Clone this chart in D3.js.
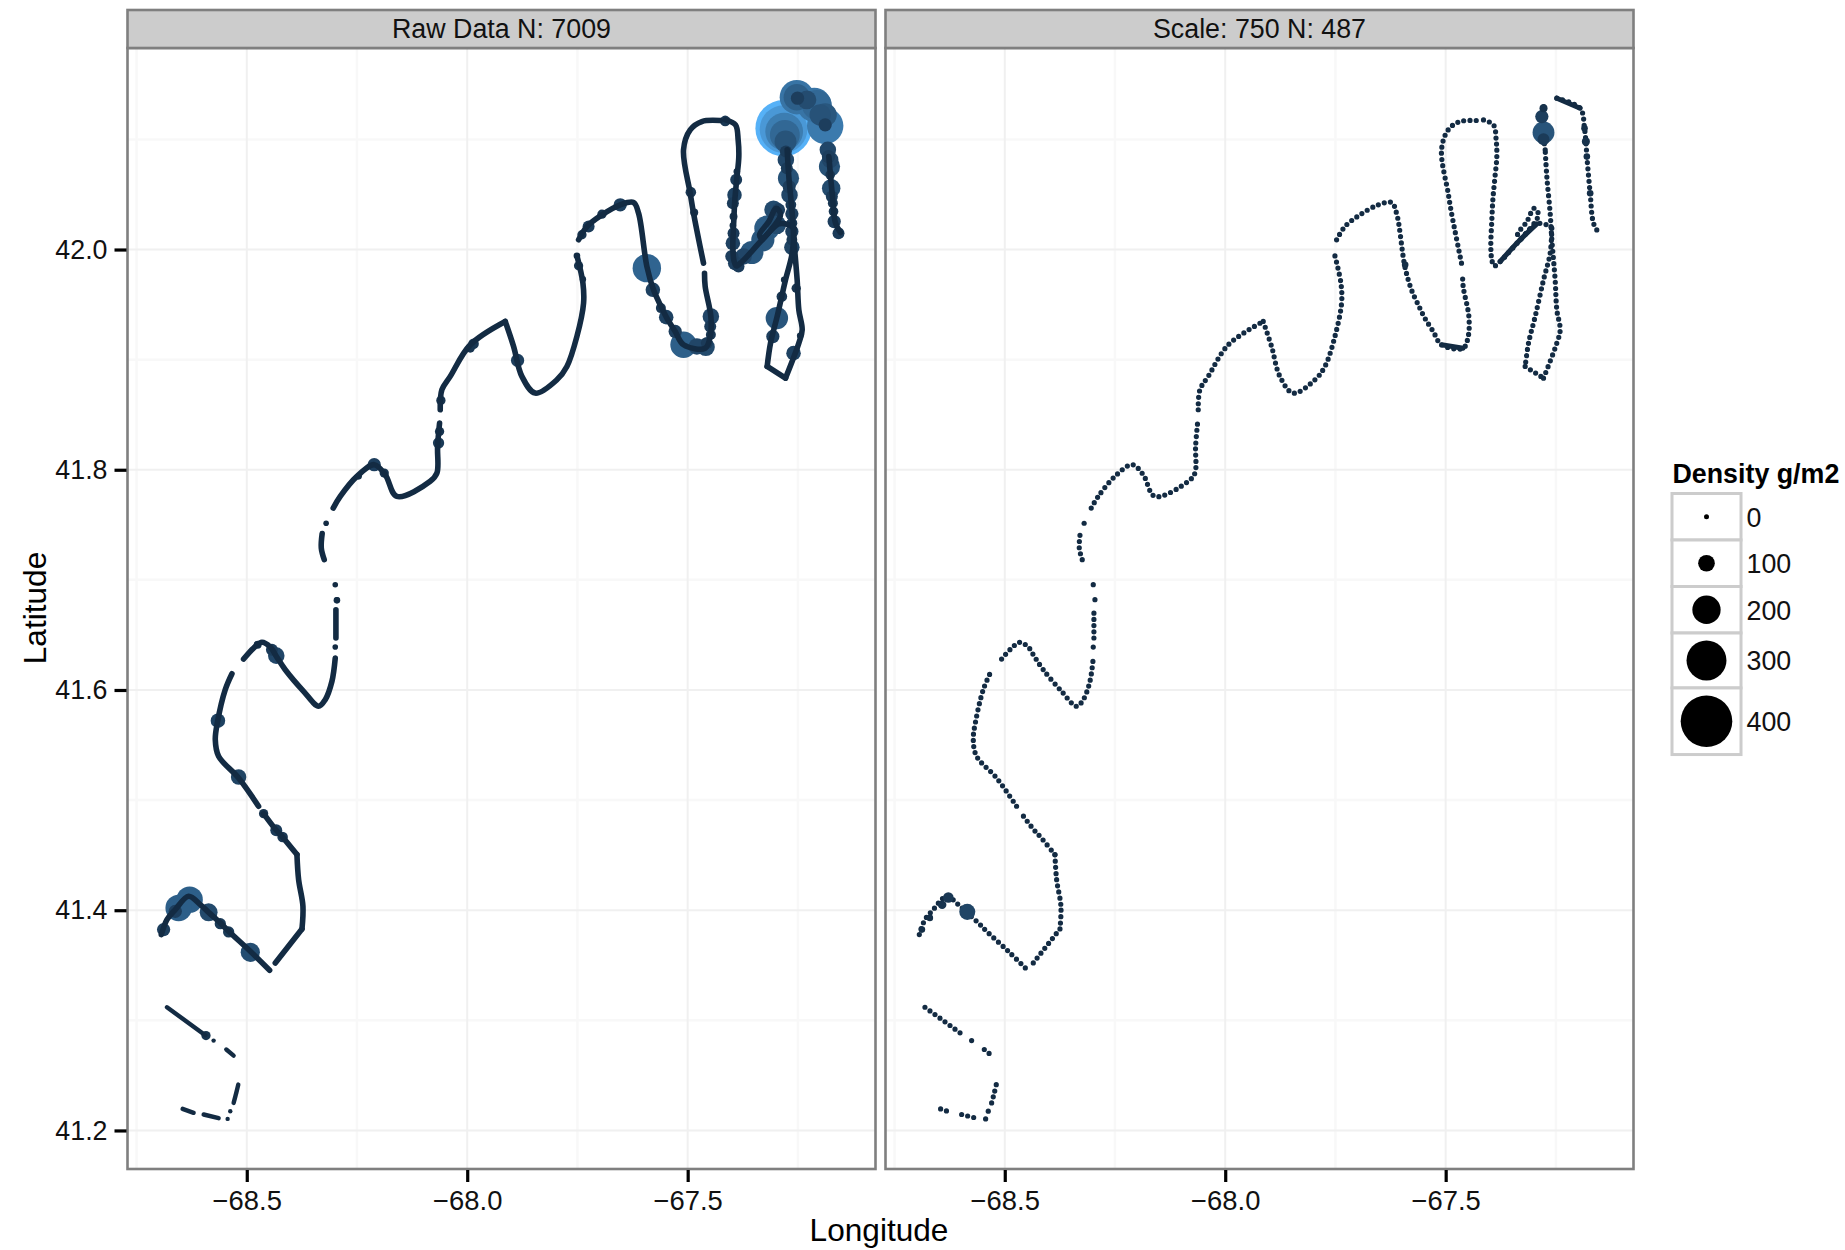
<!DOCTYPE html>
<html><head><meta charset="utf-8">
<script src="https://cdn.jsdelivr.net/npm/d3@7"></script>
<style>html,body{margin:0;padding:0;background:#fff}svg{display:block;font-family:"Liberation Sans",Arial,sans-serif}</style>
</head><body><svg id="c" width="1845" height="1250"></svg>
<script>
const panelTitles = ["Raw Data N: 7009", "Scale: 750 N: 487"];
const lonTicks = [-68.5, -68, -67.5];
const lonMinor = [-68.75, -68.25, -67.75, -67.25];
const latTicks = [41.2, 41.4, 41.6, 41.8, 42.0];
const latMinor = [41.3, 41.5, 41.7, 41.9, 42.1];
const legendValues = [0, 100, 200, 300, 400];

// Ship track pieces: [lon, lat]
const track = [
 [[-68.6455,41.2196],[-68.6205,41.2160]],
 [[-68.5978,41.2145],[-68.5638,41.2111]],
 [[-68.5434,41.2105]],
 [[-68.5374,41.2175]],
 [[-68.5298,41.2250],[-68.5238,41.2341],[-68.5192,41.2417]],
 [[-68.6810,41.3119],[-68.5941,41.2865]],
 [[-68.5752,41.2816]],
 [[-68.5464,41.2735],[-68.5298,41.2680]],
 [[-68.6938,41.3779],[-68.6810,41.3915],[-68.6621,41.4006],[-68.6319,41.4127],[-68.6054,41.4051],[-68.5865,41.3981],[-68.5600,41.3885],[-68.5411,41.3809],[-68.4920,41.3627],[-68.4482,41.3455]],
 [[-68.4353,41.3521],[-68.3748,41.3830]],
 [[-68.3748,41.3830],[-68.3726,41.4036],[-68.3824,41.4278],[-68.3862,41.4505]],
 [[-68.3862,41.4505],[-68.4202,41.4671],[-68.4331,41.4726],[-68.4618,41.4877]],
 [[-68.4732,41.4944],[-68.5185,41.5201],[-68.5639,41.5398],[-68.5714,41.5549],[-68.5661,41.5715],[-68.5488,41.6003],[-68.5336,41.6148]],
 [[-68.5072,41.6281],[-68.4845,41.6381],[-68.4656,41.6433],[-68.4467,41.6390],[-68.4331,41.6306],[-68.4127,41.6184],[-68.3711,41.5988],[-68.3371,41.5852],[-68.3220,41.5912],[-68.3068,41.6079],[-68.2993,41.6290]],
 [[-68.2993,41.6390]],
 [[-68.2978,41.6472],[-68.2978,41.6729]],
 [[-68.2955,41.6820]],
 [[-68.2993,41.6956]],
 [[-68.3243,41.7183],[-68.3310,41.7290],[-68.3290,41.7420]],
 [[-68.3200,41.7514]],
 [[-68.3039,41.7652],[-68.2880,41.7758],[-68.2502,41.7940],[-68.2109,41.8046],[-68.1859,41.7955],[-68.1595,41.7758],[-68.0839,41.7895],[-68.0687,41.7970],[-68.0672,41.8212],[-68.0627,41.8424]],
 [[-68.0612,41.8545],[-68.0574,41.8727],[-68.0385,41.8848],[-67.9931,41.9135],[-67.9138,41.9347]],
 [[-67.9138,41.9347],[-67.8949,41.9120],[-67.8760,41.8848],[-67.8457,41.8696],[-67.7966,41.8817],[-67.7739,41.8938],[-67.7512,41.9211],[-67.7361,41.9513],[-67.7376,41.9695],[-67.7512,41.9943]],
 [[-67.7474,42.0088],[-67.7285,42.0209],[-67.6945,42.0315],[-67.6529,42.0406],[-67.6227,42.0427],[-67.6114,42.0330],[-67.5925,41.9846],[-67.5775,41.9634],[-67.5586,41.9468],[-67.5472,41.9377],[-67.5283,41.9256],[-67.5094,41.9135],[-67.4603,41.9104],[-67.4489,41.9210],[-67.4474,41.9392],[-67.4603,41.9664],[-67.4618,41.9785]],
 [[-67.4641,41.9876],[-67.4867,42.0330],[-67.4943,42.0512],[-67.5094,42.0905],[-67.4943,42.1087],[-67.4678,42.1162],[-67.4263,42.1171]],
 [[-67.4142,42.1177],[-67.3915,42.1132],[-67.3855,42.0995],[-67.3840,42.0844],[-67.3885,42.0647],[-67.3930,42.0451],[-67.3953,42.0269],[-67.3976,42.0027],[-67.3953,41.9906],[-67.3900,41.9851],[-67.3764,41.9891],[-67.3310,42.0088],[-67.2932,42.0233],[-67.2706,42.0224],[-67.2592,42.0193]],
 [[-67.3310,42.0088],[-67.3371,42.0133],[-67.3159,42.0254],[-67.2993,42.0375],[-67.2895,42.0314],[-67.3310,42.0088]],
 [[-67.2592,42.0193],[-67.2630,41.9966],[-67.2781,41.9724],[-67.2970,41.9392],[-67.3121,41.9150],[-67.3197,41.8938]],
 [[-67.3197,41.8938],[-67.2781,41.8832]],
 [[-67.2781,41.8832],[-67.2479,41.9150],[-67.2403,41.9270],[-67.2479,41.9452],[-67.2517,41.9724],[-67.2592,42.0088],[-67.2630,42.0330],[-67.2706,42.0662],[-67.2743,42.0905]],
 [[-67.1798,42.0844],[-67.1723,42.0511],[-67.1647,42.0239],[-67.1534,42.0154]]
];
// Pieces only seen as a line in the thinned panel (hidden by big circles in the raw panel)
const trackScaledOnly = [
 [[-67.2743,42.0905],[-67.2781,42.1026],[-67.2819,42.1207],[-67.2766,42.1313]],
 [[-67.2479,42.1374],[-67.1950,42.1283],[-67.1851,42.1101],[-67.1798,42.0844]]
];
const denseStretches = [
 [[-67.2479,42.1374],[-67.1950,42.1283]],
 [[-67.5094,41.9135],[-67.4603,41.9104]],
 [[-67.3764,41.9891],[-67.3310,42.0088],[-67.2932,42.0233]]
];

// Raw-panel samples with high density: lon, lat, density g/m2
const rawLon = [-67.2826,-67.2826,-67.2811,-67.2796,-67.2781,-67.2524,-67.2524,-67.2509,-67.2131,-67.2070,-67.1881,-67.1881,-67.1881,-67.1821,-67.1783,-67.1768,-67.1745,-67.1707,-67.1677,-67.1579,-67.2773,-67.2713,-67.2690,-67.2637,-67.2637,-67.2637,-67.2539,-67.2977,-67.3068,-67.2864,-67.2811,-67.2599,-67.2448,-67.3053,-67.2940,-67.3204,-67.2977,-67.3295,-67.3544,-67.3733,-67.3922,-67.3975,-67.3938,-67.3975,-67.3900,-67.3885,-67.3975,-67.4149,-67.4928,-67.4852,-67.5094,-67.4588,-67.4792,-67.4474,-67.4474,-67.5283,-67.5487,-67.5608,-67.5790,-67.5926,-67.6529,-67.6945,-67.7247,-67.7398,-67.7512,-67.7474,-67.7376,-67.8858,-67.9856,-67.9931,-68.0597,-68.0627,-68.0650,-68.2109,-68.1882,-68.2464,-68.4331,-68.4429,-68.4754,-68.5654,-68.5185,-68.4618,-68.4331,-68.4187,-68.2955,-68.6296,-68.6545,-68.6621,-68.6886,-68.5865,-68.5600,-68.5411,-68.4920,-68.5925,
 -67.2773,-67.2751,-67.2698,-67.2660,-67.2637,-67.2637,-67.1806,-67.1768,-67.1730,-67.1692,-67.1995,-67.2297,-67.3960,-67.3960,-67.3998,-67.3847,-67.4489,-67.4565];
const rawLat = [42.1102,42.1093,42.1071,42.1041,42.0981,42.1383,42.1383,42.1374,42.1313,42.1313,42.1223,42.1123,42.1132,42.0905,42.0754,42.0814,42.0557,42.0421,42.0254,42.0148,42.0814,42.0648,42.0496,42.0324,42.0164,42.0021,41.9649,41.9377,41.9210,41.9574,41.9725,41.9059,41.9216,42.0360,42.0360,42.0194,42.0224,42.0088,41.9973,41.9937,41.9876,42.0058,42.0496,42.0421,42.0633,42.0708,42.0218,42.1168,42.0521,42.0336,41.9135,41.9114,41.9120,41.9392,41.9226,41.9256,41.9386,41.9468,41.9634,41.9831,42.0406,42.0321,42.0209,42.0134,41.9943,41.9852,41.9731,41.8993,41.9144,41.9105,41.8630,41.8348,41.8243,41.8046,41.7970,41.7940,41.6312,41.6366,41.6411,41.5721,41.5210,41.4877,41.4726,41.4665,41.6814,41.4096,41.4021,41.3990,41.3824,41.3981,41.3878,41.3803,41.3618,41.2862,
 42.0890,42.0739,42.0572,42.0406,42.0239,42.0088,42.0844,42.0678,42.0481,42.0345,42.1223,42.1359,42.0300,42.0148,41.9937,41.9846,41.9301,41.9150];
const rawDensity = [440,366,281,213,145,252,184,71,252,213,156,270,71,99,139,99,116,43,71,60,99,139,99,71,71,90,37,150,71,48,14,82,14,116,71,173,116,156,156,99,82,82,82,60,60,14,14,48,48,26,184,111,99,99,43,71,82,43,82,201,71,37,60,37,14,37,12,71,48,37,37,37,54,71,37,14,99,60,26,82,90,37,60,48,14,184,184,71,71,111,54,54,122,37,
 60,60,70,50,50,50,70,40,60,40,140,120,25,60,70,60,60,60];

// Thinned-panel samples with visible size
const scaledLon = [-67.2781,-67.2781,-67.2819,-67.2781,-67.1851,-67.1820,-67.1798,-67.1723,-67.5919,-68.5850,-68.6280,-68.6420,-68.6880,-68.6700];
const scaledLat = [42.1062,42.1002,42.1207,42.1283,42.1101,42.0980,42.0844,42.0511,41.9861,41.3985,41.4115,41.4050,41.3824,41.3930];
const scaledDensity = [145,60,71,26,14,26,14,14,14,95,48,30,14,14];

const W = 748, TOP = 48, BOTTOM = 1169, STRIP_TOP = 10;
const panelLeft = [127.5, 885.5];
const INK = "#132B43";
const FONT = 26.8;

const xBase = d3.scaleLinear().domain([-68.7705, -67.0740]).range([0, W]);
const y = d3.scaleLinear().domain([41.165, 42.183]).range([BOTTOM, TOP]);
const r = d3.scaleLinear().domain([0, 400]).range([2.5, 25.8]);
const col = d3.scaleLinear().domain([0, 440]).range(["#132B43", "#56B1F7"]).interpolate(d3.interpolateLab);
const line = d3.line().x(d => xBase(d[0])).y(d => y(d[1])).curve(d3.curveCatmullRom.alpha(0.5));

const svg = d3.select("#c");

panelTitles.forEach((title, i) => {
  const g = svg.append("g").attr("transform", `translate(${panelLeft[i]},0)`);
  const grid = g.append("g");
  const vl = (vals, c, w) => grid.append("g").selectAll("line").data(vals).join("line")
    .attr("x1", d => xBase(d)).attr("x2", d => xBase(d)).attr("y1", TOP).attr("y2", BOTTOM).attr("stroke", c).attr("stroke-width", w);
  const hl = (vals, c, w) => grid.append("g").selectAll("line").data(vals).join("line")
    .attr("x1", 0).attr("x2", W).attr("y1", d => y(d)).attr("y2", d => y(d)).attr("stroke", c).attr("stroke-width", w);
  vl(lonMinor, "#f8f8f8", 2.5); hl(latMinor, "#f8f8f8", 2.5);
  vl(lonTicks, "#f0f0f0", 2); hl(latTicks, "#f0f0f0", 2);

  if (i === 0) {
    const pts = rawLon.map((lon, k) => ({lon, lat: rawLat[k], d: rawDensity[k]})).sort((a, b) => b.d - a.d);
    g.append("g").selectAll("circle").data(pts).join("circle")
      .attr("cx", d => xBase(d.lon)).attr("cy", d => y(d.lat)).attr("r", d => r(d.d)).attr("fill", d => col(d.d));
    g.append("g").selectAll("path").data(track).join("path")
      .attr("d", d => d.length > 1 ? line(d) : line([d[0], d[0]]))
      .attr("fill", "none").attr("stroke", INK).attr("stroke-linecap", "round").attr("stroke-linejoin", "round")
      .attr("stroke-width", (d, k) => k < 8 ? 4.4 : 5.6);
  } else {
    const pts = scaledLon.map((lon, k) => ({lon, lat: scaledLat[k], d: scaledDensity[k]})).sort((a, b) => b.d - a.d);
    g.append("g").selectAll("path").data(track.concat(trackScaledOnly)).join("path")
      .attr("d", d => d.length > 1 ? line(d) : line([d[0], d[0]]))
      .attr("fill", "none").attr("stroke", INK).attr("stroke-linecap", "round").attr("stroke-linejoin", "round")
      .attr("stroke-width", 5.2).attr("stroke-dasharray", d => d.length > 1 ? "0 6.2" : null);
    g.append("g").selectAll("path").data(denseStretches).join("path")
      .attr("d", line).attr("fill", "none").attr("stroke", INK).attr("stroke-width", 5).attr("stroke-linecap", "round");
    g.append("g").selectAll("circle").data(pts).join("circle")
      .attr("cx", d => xBase(d.lon)).attr("cy", d => y(d.lat)).attr("r", d => r(d.d)).attr("fill", d => col(d.d));
  }

  // panel border, strip
  g.append("rect").attr("x", 0).attr("y", TOP).attr("width", W).attr("height", BOTTOM - TOP)
    .attr("fill", "none").attr("stroke", "#7f7f7f").attr("stroke-width", 2.6);
  g.append("rect").attr("x", 0).attr("y", STRIP_TOP).attr("width", W).attr("height", TOP - STRIP_TOP)
    .attr("fill", "#cccccc").attr("stroke", "#7f7f7f").attr("stroke-width", 2.6);
  g.append("text").attr("x", W / 2).attr("y", (STRIP_TOP + TOP) / 2 + 9).attr("text-anchor", "middle")
    .attr("font-size", FONT).attr("fill", "#111").text(title);

  // x axis
  const ax = g.append("g").attr("transform", `translate(0,${BOTTOM + 1})`)
    .call(d3.axisBottom(xBase).tickValues(lonTicks).tickSize(12).tickPadding(9).tickFormat(d => "\u2212" + Math.abs(d).toFixed(1)));
  ax.select(".domain").remove();
  ax.selectAll("line").attr("stroke", "#000").attr("stroke-width", 3.2);
  ax.selectAll("text").attr("font-size", FONT + 0.6).attr("fill", "#111").attr("font-family", '"Liberation Sans",Arial,sans-serif');

  if (i === 0) {
    const ay = g.append("g").attr("transform", "translate(-1,0)")
      .call(d3.axisLeft(y).tickValues(latTicks).tickSize(12).tickPadding(7).tickFormat(d3.format(".1f")));
    ay.select(".domain").remove();
    ay.selectAll("line").attr("stroke", "#000").attr("stroke-width", 3.2);
    ay.selectAll("text").attr("font-size", FONT).attr("fill", "#111").attr("font-family", '"Liberation Sans",Arial,sans-serif');
  }
});

// axis titles
svg.append("text").attr("x", 879).attr("y", 1241).attr("text-anchor", "middle").attr("font-size", 31.6).attr("fill", "#000").text("Longitude");
svg.append("text").attr("transform", "translate(46,608) rotate(-90)").attr("text-anchor", "middle").attr("font-size", 31.6).attr("fill", "#000").text("Latitude");

// legend
const LX = 1672, LW = 69, LCX = 1706.5;
svg.append("text").attr("x", 1672.5).attr("y", 482.5).attr("font-size", FONT).attr("font-weight", "bold").attr("fill", "#000").text("Density g/m2");
let ly = 493.5;
legendValues.forEach(v => {
  const h = Math.max(46.5, 2 * r(v) + 15);
  svg.append("rect").attr("x", LX).attr("y", ly).attr("width", LW).attr("height", h)
    .attr("fill", "#fff").attr("stroke", "#cccccc").attr("stroke-width", 3);
  svg.append("circle").attr("cx", LCX).attr("cy", ly + h / 2).attr("r", r(v)).attr("fill", "#000");
  svg.append("text").attr("x", 1746.5).attr("y", ly + h / 2 + 10).attr("font-size", FONT).attr("fill", "#111").text(v);
  ly += h;
});
</script></body></html>
